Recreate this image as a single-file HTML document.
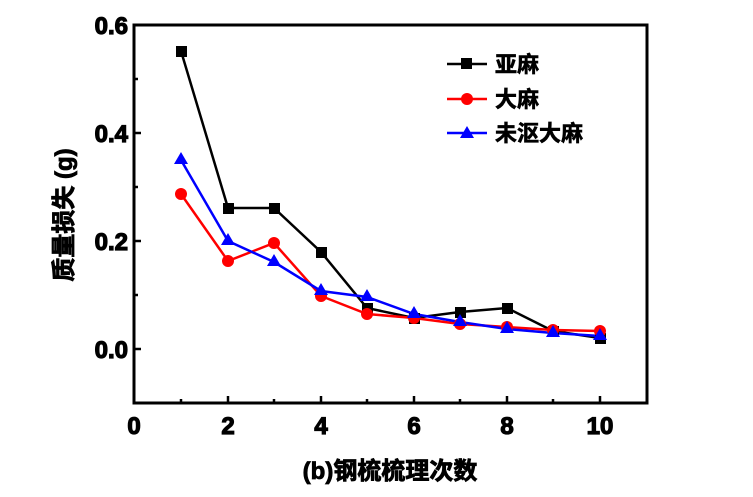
<!DOCTYPE html><html><head><style>body{margin:0;background:#fff}</style></head><body>
<svg width="753" height="492" xmlns="http://www.w3.org/2000/svg" font-family="Liberation Sans, Noto Sans CJK SC, sans-serif" font-weight="bold">
<rect x="134" y="25" width="513" height="378" fill="none" stroke="#000" stroke-width="3"/>
<g stroke="#000" stroke-width="2.5">
<line x1="134" y1="25" x2="141" y2="25"/><line x1="134" y1="79" x2="138" y2="79"/>
<line x1="134" y1="133" x2="141" y2="133"/><line x1="134" y1="187" x2="138" y2="187"/>
<line x1="134" y1="241" x2="141" y2="241"/><line x1="134" y1="295" x2="138" y2="295"/>
<line x1="134" y1="349" x2="141" y2="349"/>
<line x1="181" y1="403" x2="181" y2="399"/><line x1="228" y1="403" x2="228" y2="396"/>
<line x1="274" y1="403" x2="274" y2="399"/><line x1="321" y1="403" x2="321" y2="396"/>
<line x1="367" y1="403" x2="367" y2="399"/><line x1="414" y1="403" x2="414" y2="396"/>
<line x1="460" y1="403" x2="460" y2="399"/><line x1="507" y1="403" x2="507" y2="396"/>
<line x1="553" y1="403" x2="553" y2="399"/><line x1="600" y1="403" x2="600" y2="396"/>
</g>
<g font-size="24" text-anchor="end" stroke="#000" stroke-width="1.2">
<text x="128" y="34">0.6</text><text x="128" y="142">0.4</text><text x="128" y="250">0.2</text><text x="128" y="358">0.0</text>
</g>
<g font-size="24" text-anchor="middle" stroke="#000" stroke-width="1.2">
<text x="134" y="434">0</text><text x="228" y="434">2</text><text x="321" y="434">4</text><text x="414" y="434">6</text><text x="507" y="434">8</text><text x="600" y="434">10</text>
</g>
<text x="390" y="479" font-size="24" text-anchor="middle" stroke="#000" stroke-width="0.8">(b)钢梳梳理次数</text>
<text transform="translate(72,215) rotate(-90)" font-size="24" text-anchor="middle" stroke="#000" stroke-width="0.8">质量损失 (g)</text>
<polyline fill="none" stroke="#000" stroke-width="2.5" points="181,51 228,208 274,208 321,252 367,308 414,318 460,312 507,308 553,331 600,338"/>
<polyline fill="none" stroke="#f00" stroke-width="2.5" points="181,194 228,261 274,243 321,296 367,314 414,318 460,324 507,327 553,330 600,331"/>
<polyline fill="none" stroke="#00f" stroke-width="2.5" points="181,160 228,241 274,262 321,291 367,297 414,314 460,322 507,329 553,333 600,336"/>
<g fill="#000"><rect x="176" y="46" width="11" height="11"/><rect x="223" y="203" width="11" height="11"/><rect x="269" y="203" width="11" height="11"/><rect x="316" y="247" width="11" height="11"/><rect x="362" y="303" width="11" height="11"/><rect x="409" y="313" width="11" height="11"/><rect x="455" y="307" width="11" height="11"/><rect x="502" y="303" width="11" height="11"/><rect x="548" y="326" width="11" height="11"/><rect x="595" y="333" width="11" height="11"/></g>
<g fill="#f00"><circle cx="181" cy="194" r="6"/><circle cx="228" cy="261" r="6"/><circle cx="274" cy="243" r="6"/><circle cx="321" cy="296" r="6"/><circle cx="367" cy="314" r="6"/><circle cx="414" cy="318" r="6"/><circle cx="460" cy="324" r="6"/><circle cx="507" cy="327" r="6"/><circle cx="553" cy="330" r="6"/><circle cx="600" cy="331" r="6"/></g>
<g fill="#00f">
<path d="M181,152l7,12h-14z"/><path d="M228,233l7,12h-14z"/><path d="M274,254l7,12h-14z"/><path d="M321,283l7,12h-14z"/><path d="M367,289l7,12h-14z"/><path d="M414,306l7,12h-14z"/><path d="M460,314l7,12h-14z"/><path d="M507,321l7,12h-14z"/><path d="M553,325l7,12h-14z"/><path d="M600,328l7,12h-14z"/>
</g>
<line x1="447" y1="64" x2="487" y2="64" stroke="#000" stroke-width="2.5"/><rect x="461" y="58" width="11" height="11"/>
<line x1="447" y1="99" x2="487" y2="99" stroke="#f00" stroke-width="2.5"/><circle cx="467" cy="99" r="6" fill="#f00"/>
<line x1="447" y1="133" x2="487" y2="133" stroke="#00f" stroke-width="2.5"/><path d="M467,126l7,12h-14z" fill="#00f"/>
<g font-size="22" stroke="#000" stroke-width="0.6"><text x="495" y="72">亚麻</text><text x="495" y="107">大麻</text><text x="495" y="141">未沤大麻</text></g>
</svg>
</body></html>
